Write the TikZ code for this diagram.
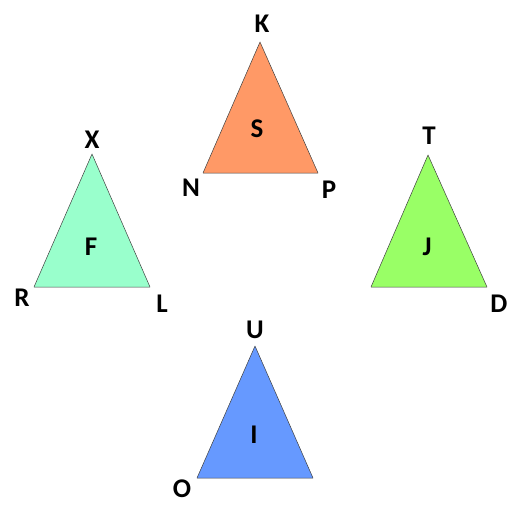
\documentclass[tikz,border=0pt]{standalone}
\usepackage{fontspec}
\setmainfont{Carlito}
\begin{document}
\begin{tikzpicture}[x=1pt, y=-1pt, font=\fontsize{27}{32}\selectfont\bfseries]
\tikzset{
  tri/.style={draw=black!75, line width=0.5pt, line join=round},
  vlabel/.style={inner sep=0pt}
}
\useasboundingbox (0,0) rectangle (514,508);

% Triangle S
\coordinate (K) at (260,42);
\coordinate (N) at (203,173);
\coordinate (P) at (318,173);
\fill[tri, fill={rgb,255:red,255;green,153;blue,102}] (K) -- (N) -- (P) -- cycle;
\node[vlabel] (lK) at (262,24) {K};
\node[vlabel] (lN) at (191,188) {N};
\node[vlabel] (lP) at (329,190) {P};
\node[vlabel] (nS) at (257,129) {S};

% Triangle F
\coordinate (X) at (92,154);
\coordinate (R) at (34,287);
\coordinate (L) at (150,287);
\fill[tri, fill={rgb,255:red,153;green,255;blue,204}] (X) -- (R) -- (L) -- cycle;
\node[vlabel] (lX) at (92,140) {X};
\node[vlabel] (lR) at (22,298) {R};
\node[vlabel] (lL) at (162,304) {L};
\node[vlabel] (nF) at (91,247) {F};

% Triangle J
\coordinate (T) at (428,155);
\coordinate (J1) at (371,287);
\coordinate (D) at (487,287);
\fill[tri, fill={rgb,255:red,153;green,255;blue,102}] (T) -- (J1) -- (D) -- cycle;
\node[vlabel] (lT) at (429,136) {T};
\node[vlabel] (lD) at (499,304) {D};
\node[vlabel] (nJ) at (427,247) {J};

% Triangle I
\coordinate (U) at (255,346);
\coordinate (O) at (197,478);
\coordinate (I1) at (313,478);
\fill[tri, fill={rgb,255:red,102;green,153;blue,255}] (U) -- (O) -- (I1) -- cycle;
\node[vlabel] (lU) at (255,330) {U};
\node[vlabel] (lO) at (182,489) {O};
\node[vlabel] (nI) at (254,435) {I};

\end{tikzpicture}
\end{document}
